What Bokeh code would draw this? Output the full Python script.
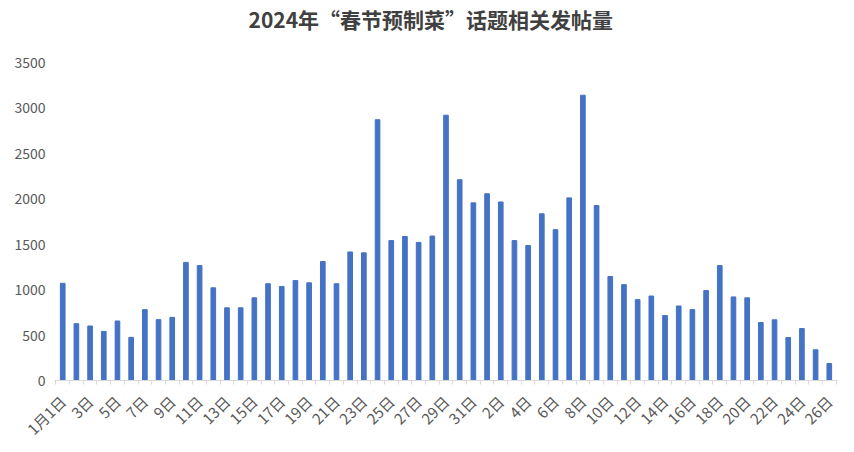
import math
from bokeh.plotting import figure
from bokeh.models import Range1d, FixedTicker, ColumnDataSource, Title
from bokeh.embed import file_html
from bokeh.resources import INLINE

jan_days = ["1月1日"] + [f"{d}日" for d in range(2, 32)]
feb_days = ["2月1日"] + [f"{d}日" for d in range(2, 27)]
labels = jan_days + feb_days

jan_values = [1070, 625, 600, 540, 655, 475, 780, 670, 695, 1300, 1265, 1020, 800, 800,
              910, 1065, 1035, 1100, 1075, 1310, 1065, 1415, 1405, 2870, 1540, 1585,
              1520, 1590, 2920, 2210, 1955]
feb_values = [2055, 1965, 1540, 1485, 1835, 1660, 2010, 3140, 1925, 1145, 1055, 890,
              930, 715, 820, 780, 990, 1265, 920, 910, 638, 668, 473, 572, 338, 187]
values = jan_values + feb_values

TITLE = "2024年“春节预制菜”话题相关发帖量"
FONT = "Noto Sans CJK SC"

x = list(range(len(values)))
src = ColumnDataSource(dict(x=x, top=values))

p = figure(width=846, height=450, output_backend="svg", toolbar_location=None,
           x_range=Range1d(-0.6, len(values) - 0.4), y_range=Range1d(0, 3500),
           min_border_left=54, min_border_right=9, min_border_top=62, min_border_bottom=70)

p.vbar(x="x", top="top", width=0.34, source=src, color="#4472C4")

# spacer (nearest the frame), then the visible title above it
p.add_layout(Title(text=" ", text_font_size="1px", standoff=26), "above")
p.add_layout(Title(text=TITLE, align="left", offset=194, standoff=0,
                   text_font=FONT, text_font_size="21px", text_color="#404040",
                   text_font_style="bold"), "above")

p.xgrid.visible = False
p.ygrid.visible = False
p.outline_line_color = None

xt = FixedTicker(ticks=list(range(0, len(values), 2)),
                 minor_ticks=[i - 0.5 for i in range(len(values) + 1)])
p.xaxis.ticker = xt
p.xaxis.major_label_overrides = {i: labels[i] for i in range(0, len(values), 2)}
p.xaxis.major_label_orientation = math.pi / 4
p.xaxis.major_tick_line_color = None
p.xaxis.minor_tick_in = 0
p.xaxis.minor_tick_out = 4
p.xaxis.minor_tick_line_color = "#d9d9d9"
p.xaxis.axis_line_color = "#d9d9d9"
p.xaxis.major_label_text_font = FONT
p.xaxis.major_label_text_font_size = "15px"
p.xaxis.major_label_text_color = "#595959"
p.xaxis.major_label_standoff = 12

p.yaxis.ticker = FixedTicker(ticks=list(range(0, 3501, 500)))
p.yaxis.axis_line_color = None
p.yaxis.major_tick_line_color = None
p.yaxis.minor_tick_line_color = None
p.yaxis.major_label_text_font = FONT
p.yaxis.major_label_text_font_size = "14px"
p.yaxis.major_label_text_color = "#595959"
p.yaxis.major_label_standoff = 3

open("out.html", "w").write(file_html(p, INLINE))
